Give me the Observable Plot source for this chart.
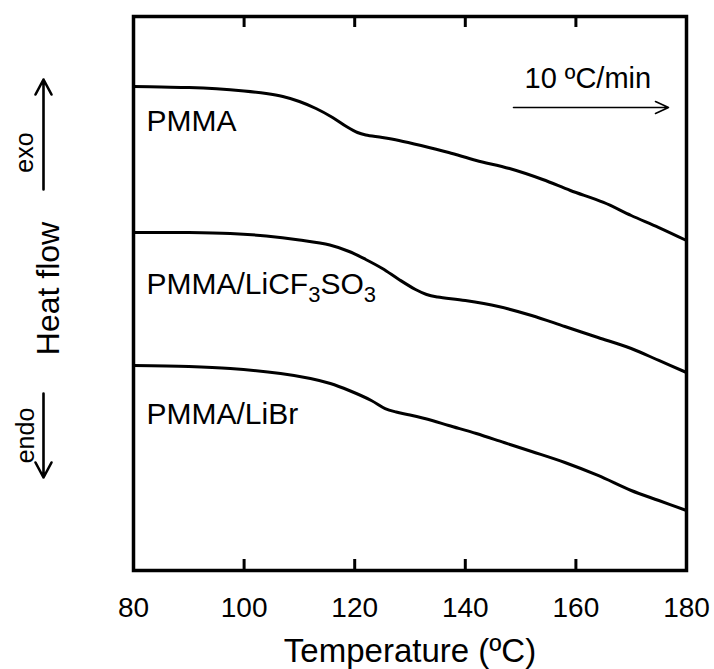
<!DOCTYPE html>
<html>
<head>
<meta charset="utf-8">
<script src="https://cdn.jsdelivr.net/npm/d3@7"></script>
<script src="https://cdn.jsdelivr.net/npm/@observablehq/plot@0.6"></script>
<style>
  html, body { margin: 0; padding: 0; background: #fff; }
</style>
</head>
<body>
<div id="chart"></div>
<script>
// ---- data ----
const xTicks = [80, 100, 120, 140, 160, 180];
const innerTicks = [100, 120, 140, 160];

const seriesNames = ["PMMA", "PMMA/LiCF3SO3", "PMMA/LiBr"];

const tempPMMA = [80, 85, 90, 95, 100, 104, 107, 110, 113, 116, 118.5, 120.5, 122, 125, 128, 132, 137, 142, 148, 154, 159, 165, 170, 175, 180];
const heatPMMA = [87.36, 87.27, 87.18, 86.95, 86.55, 86.10, 85.56, 84.66, 83.39, 81.77, 80.14, 79.06, 78.61, 78.16, 77.62, 76.71, 75.45, 74.01, 72.56, 70.58, 68.59, 66.43, 64.08, 61.91, 59.57];

const tempLiCF = [80, 90, 97.5, 104, 110, 115.5, 119, 122, 125, 128, 131, 133, 135, 140, 146, 152, 158, 164, 170, 175, 180];
const heatLiCF = [61.01, 61.01, 60.83, 60.38, 59.66, 58.75, 57.58, 56.14, 54.51, 52.53, 50.72, 49.82, 49.37, 48.74, 47.65, 46.03, 44.04, 42.06, 40.07, 37.91, 35.74];

const tempLiBr = [80, 90, 97.5, 106.6, 112, 115.6, 119, 123, 125.5, 127.5, 130, 134, 137, 142, 147, 152, 158, 164, 170, 175, 180];
const heatLiBr = [37.00, 36.82, 36.46, 35.56, 34.66, 33.75, 32.49, 30.69, 29.24, 28.61, 28.07, 27.08, 26.17, 24.73, 23.10, 21.48, 19.49, 17.15, 14.44, 12.64, 10.83];

const xLabel = "Temperature (ºC)";
const yLabel = "Heat flow";
const exoLabel = "exo";
const endoLabel = "endo";
const rateLabel = "10 ºC/min";

// ---- build tables ----
const toRows = (name, T, H) => T.map((t, i) => ({series: name, T: t, hf: H[i]}));
const rowsPMMA = toRows(seriesNames[0], tempPMMA, heatPMMA);
const rowsLiCF = toRows(seriesNames[1], tempLiCF, heatLiCF);
const rowsLiBr = toRows(seriesNames[2], tempLiBr, heatLiBr);
const allRows = [...rowsPMMA, ...rowsLiCF, ...rowsLiBr];

const arrowShape = (w, h) => ({
  draw(ctx, l) {
    ctx.moveTo(0, 0);
    ctx.lineTo(0, -l);
    ctx.moveTo(-w, h - l);
    ctx.lineTo(0, -l);
    ctx.lineTo(w, h - l);
  }
});

const font = "'Liberation Sans', Arial, Helvetica, sans-serif";

const chart = Plot.plot({
  width: 714,
  height: 669,
  marginLeft: 133,
  marginRight: 28,
  marginTop: 16,
  marginBottom: 99,
  style: {fontFamily: font, fontSize: "28px", color: "#000", background: "#fff"},
  x: {domain: [80, 180], ticks: xTicks, tickSize: 0, tickPadding: 27, label: null},
  y: {domain: [0, 100], axis: null},
  marks: [
    Plot.line(allRows, {x: "T", y: "hf", z: "series", curve: "catmull-rom", stroke: "#000", strokeWidth: 3}),
    Plot.frame({stroke: "#000", strokeWidth: 3.5}),
    Plot.tickX(innerTicks, {x: d => d, insetTop: 543, stroke: "#000", strokeWidth: 3}),
    Plot.tickX(innerTicks, {x: d => d, insetBottom: 543, stroke: "#000", strokeWidth: 3}),
    // series labels, anchored at the first point of each series
    Plot.text([rowsPMMA[0]], {x: "T", y: "hf", text: "series", textAnchor: "start", lineAnchor: "middle", dx: 13, dy: 35, fontSize: 30}),
    Plot.text([rowsLiCF[0]], {x: "T", y: "hf", text: "series", textAnchor: "start", lineAnchor: "middle", dx: 13, dy: 52, fontSize: 30}),
    Plot.text([rowsLiBr[0]], {x: "T", y: "hf", text: "series", textAnchor: "start", lineAnchor: "middle", dx: 13, dy: 49, fontSize: 30}),
    // axis titles
    Plot.text([xLabel], {frameAnchor: "bottom", textAnchor: "middle", lineAnchor: "middle", dy: 81, fontSize: 33}),
    Plot.text([yLabel], {frameAnchor: "left", textAnchor: "middle", lineAnchor: "middle", rotate: -90, dx: -85, dy: -5, fontSize: 32}),
    Plot.text([exoLabel], {frameAnchor: "left", textAnchor: "middle", lineAnchor: "middle", rotate: -90, dx: -109, dy: -141, fontSize: 25}),
    Plot.text([endoLabel], {frameAnchor: "left", textAnchor: "middle", lineAnchor: "middle", rotate: -90, dx: -108, dy: 142, fontSize: 25}),
    Plot.vector([0], {frameAnchor: "left", dx: -90, dy: -104, length: 110, rotate: 0, anchor: "start", shape: arrowShape(8, 15), stroke: "#000", strokeWidth: 2.6}),
    Plot.vector([0], {frameAnchor: "left", dx: -90, dy: 100, length: 84, rotate: 180, anchor: "start", shape: arrowShape(8, 15), stroke: "#000", strokeWidth: 2.6}),
    // heating-rate annotation
    Plot.text([rateLabel], {frameAnchor: "top-right", textAnchor: "start", lineAnchor: "middle", dx: -162, dy: 62, fontSize: 29}),
    Plot.vector([0], {frameAnchor: "top-right", dx: -173, dy: 91, length: 155, rotate: 90, anchor: "start", shape: arrowShape(6, 13), stroke: "#000", strokeWidth: 1.6})
  ]
});

// subscripts for LiCF3SO3
d3.select(chart).selectAll("text").each(function () {
  if (this.textContent === "PMMA/LiCF3SO3" && this.childElementCount === 0) {
    const t = d3.select(this);
    t.text(null);
    t.append("tspan").text("PMMA/LiCF");
    t.append("tspan").attr("font-size", "22px").attr("dy", "8").text("3");
    t.append("tspan").attr("dy", "-8").text("SO");
    t.append("tspan").attr("font-size", "22px").attr("dy", "8").text("3");
  }
});

document.getElementById("chart").appendChild(chart);
</script>
</body>
</html>
